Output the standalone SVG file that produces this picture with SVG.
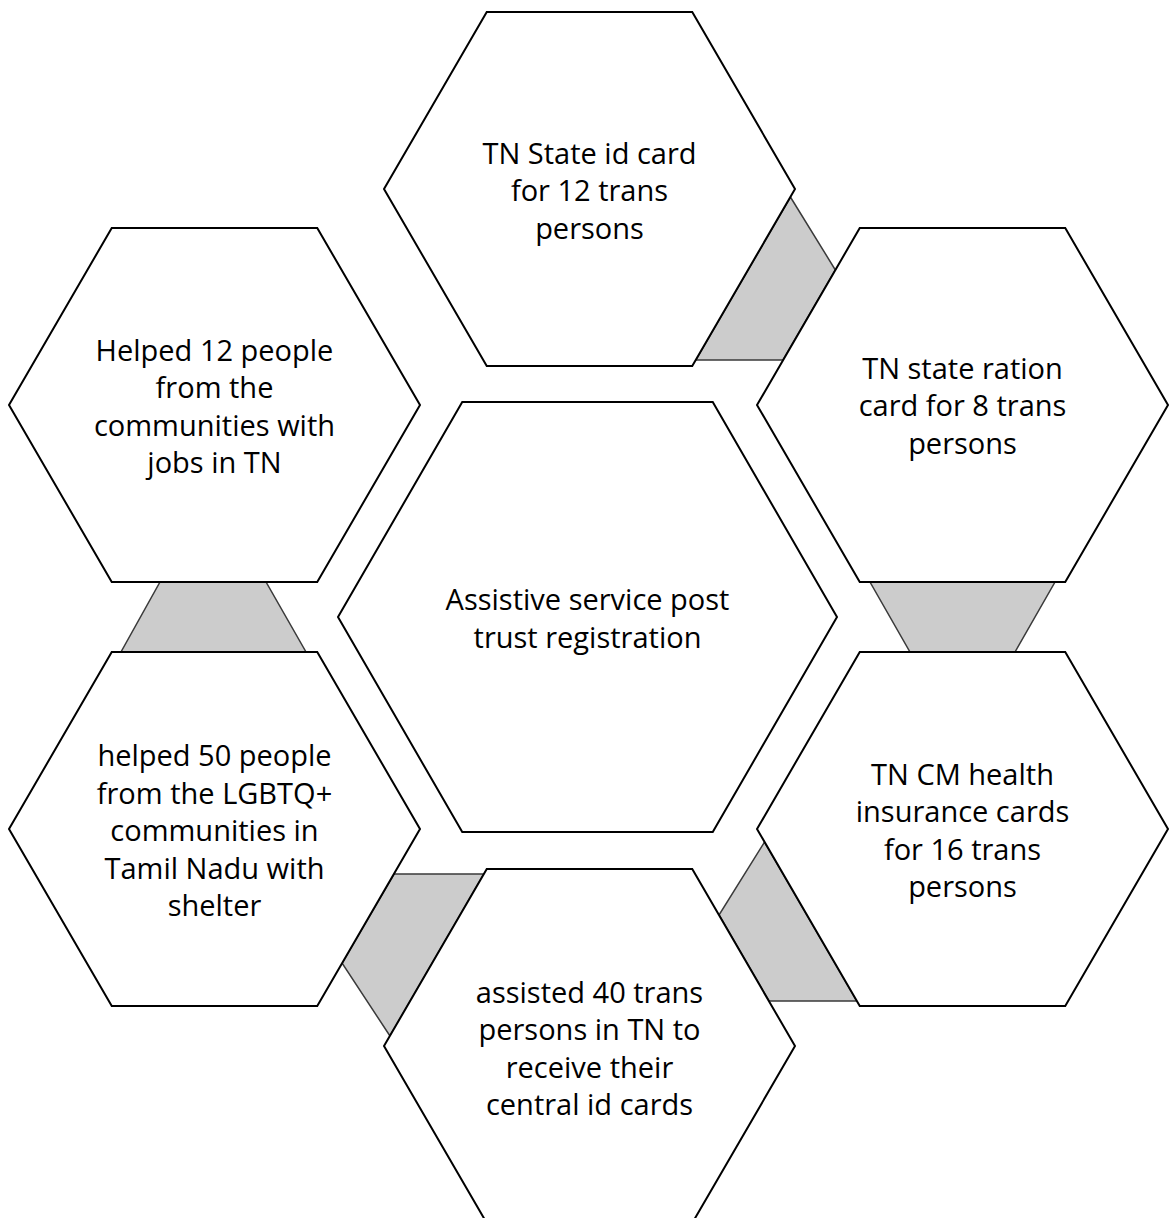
<svg xmlns="http://www.w3.org/2000/svg" width="1170" height="1218" viewBox="0 0 1170 1218">
<style>
.hex{fill:#ffffff;stroke:#000000;stroke-width:2}
.con{fill:#cccccc;stroke:#3a3a3a;stroke-width:1.5}
text{font-family:"Open Sans","Noto Sans",sans-serif;font-size:29px;fill:#000000;text-anchor:middle}
</style>
<rect width="1170" height="1218" fill="#ffffff"/>
<g id="connectors">
<polygon class="con" points="790.4,197 835.4,270 783.1,360 695.7,360"/>
<polygon class="con" points="160,582 266,582 306,652 121,652"/>
<polygon class="con" points="870,582 1055,582 1015,652 910,652"/>
<polygon class="con" points="394,874 484,874 390,1036 342,963"/>
<polygon class="con" points="764.5,842 857,1001 769,1001 719,915"/>
</g>
<g id="center">
<polygon class="hex" points="338,617 462.25,402 712.75,402 837,617 712.75,832 462.25,832"/>
<text x="587.5" y="610">Assistive service post</text>
<text x="587.5" y="647.5">trust registration</text>
</g>
<g id="top">
<polygon class="hex" points="384,189 486.75,12 692.25,12 795,189 692.25,366 486.75,366"/>
<text x="589.5" y="163.5">TN State id card</text>
<text x="589.5" y="201">for 12 trans</text>
<text x="589.5" y="238.5">persons</text>
</g>
<g id="top-left">
<polygon class="hex" points="9,405 111.75,228 317.25,228 420,405 317.25,582 111.75,582"/>
<text x="214.5" y="360.5">Helped 12 people</text>
<text x="214.5" y="398">from the</text>
<text x="214.5" y="435.5">communities with</text>
<text x="214.5" y="473">jobs in TN</text>
</g>
<g id="top-right">
<polygon class="hex" points="757,405 859.75,228 1065.25,228 1168,405 1065.25,582 859.75,582"/>
<text x="962.5" y="378.5">TN state ration</text>
<text x="962.5" y="416">card for 8 trans</text>
<text x="962.5" y="453.5">persons</text>
</g>
<g id="bottom-left">
<polygon class="hex" points="9,829 111.75,652 317.25,652 420,829 317.25,1006 111.75,1006"/>
<text x="214.5" y="766">helped 50 people</text>
<text x="214.5" y="803.5">from the LGBTQ+</text>
<text x="214.5" y="841">communities in</text>
<text x="214.5" y="878.5">Tamil Nadu with</text>
<text x="214.5" y="916">shelter</text>
</g>
<g id="bottom-right">
<polygon class="hex" points="757,829 859.75,652 1065.25,652 1168,829 1065.25,1006 859.75,1006"/>
<text x="962.5" y="784.5">TN CM health</text>
<text x="962.5" y="822">insurance cards</text>
<text x="962.5" y="859.5">for 16 trans</text>
<text x="962.5" y="897">persons</text>
</g>
<g id="bottom">
<polygon class="hex" points="384,1046 486.75,869 692.25,869 795,1046 692.25,1223 486.75,1223"/>
<text x="589.5" y="1002.5">assisted 40 trans</text>
<text x="589.5" y="1040">persons in TN to</text>
<text x="589.5" y="1077.5">receive their</text>
<text x="589.5" y="1115">central id cards</text>
</g>
</svg>
